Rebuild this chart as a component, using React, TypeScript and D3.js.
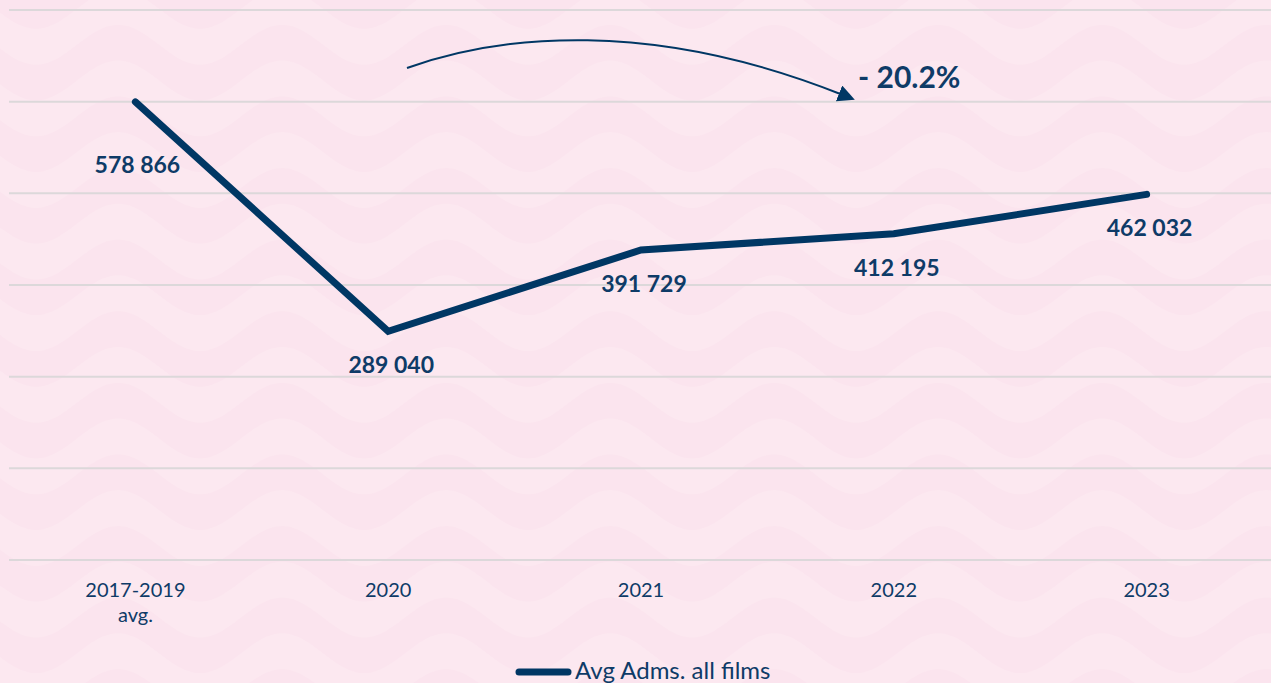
import React from "react";
import * as d3 from "d3";

const categories = ["2017-2019 avg.", "2020", "2021", "2022", "2023"];
const values = [578866, 289040, 391729, 412195, 462032];
const valueLabels = ["578 866", "289 040", "391 729", "412 195", "462 032"];
const seriesName = "Avg Adms. all films";
const changeLabel = "- 20.2%";
const yMax = 695000;
const gridCount = 6;

const W = 1271;
const H = 683;
const NAVY = "#003764";
const TEXT = "#0e3b67";

export default function App() {
  const x = d3.scaleBand<string>().domain(categories).range([9, 1273]).padding(0);
  const cx = (c: string) => (x(c) as number) + x.bandwidth() / 2;
  const y = d3.scaleLinear().domain([0, yMax]).range([560, 10]);
  const grid = d3.range(gridCount + 1).map((i) => (i * yMax) / gridCount);

  const line = d3
    .line<number>()
    .x((_, i) => cx(categories[i]))
    .y((v) => y(v));

  // decorative wave background bands
  const period = 164;
  const amp = 20;
  const waveLine = d3
    .line<[number, number]>()
    .curve(d3.curveBasis)
    .x((d) => d[0])
    .y((d) => d[1]);
  const bands: string[] = [];
  for (let k = -2; k < 11; k++) {
    const c = 132 + 71.6 * (k - 2) + amp;
    const top: [number, number][] = d3
      .range(-20, W + 24, 4)
      .map((px) => [px, c - amp * Math.cos((2 * Math.PI * (px - 118)) / period)]);
    const bottom: [number, number][] = top
      .slice()
      .reverse()
      .map(([px, py]) => [px, py + 36]);
    const d1 = waveLine(top) as string;
    const d2 = (waveLine(bottom) as string).replace(/^M/, "L");
    bands.push(d1 + d2 + "Z");
  }

  return (
    <svg
      width={W}
      height={H}
      style={{ position: "fixed", left: 0, top: 0, display: "block" }}
      fontFamily="Lato, 'Open Sans', sans-serif"
    >
      <defs>
        <marker
          id="arrowBig"
          viewBox="0 0 16 16"
          refX="4"
          refY="8"
          markerWidth="17"
          markerHeight="17"
          markerUnits="userSpaceOnUse"
          orient="auto"
        >
          <path d="M0,0 L16,8 L0,16 Z" fill={NAVY} />
        </marker>
      </defs>
      <rect x={0} y={0} width={W} height={H} fill="#fbe4ee" />
      {bands.map((d, i) => (
        <path key={i} d={d} fill="#fce8f0" />
      ))}

      {grid.map((g, i) => (
        <line key={i} x1={9} x2={W} y1={y(g)} y2={y(g)} stroke="#dcd8da" strokeWidth={2} />
      ))}

      {categories.map((c) => {
        const parts = c.split(" ");
        return (
          <text key={c} x={cx(c)} y={597} textAnchor="middle" fontSize={20} fill={TEXT}>
            {parts.map((p, j) => (
              <tspan key={j} x={cx(c)} dy={j === 0 ? 0 : 25}>
                {p}
              </tspan>
            ))}
          </text>
        );
      })}

      <path
        d={line(values) as string}
        fill="none"
        stroke={NAVY}
        strokeWidth={7}
        strokeLinecap="round"
        strokeLinejoin="miter"
      />

      {values.map((v, i) => (
        <text
          key={i}
          x={cx(categories[i]) + (i === 0 ? 2 : 3)}
          y={y(v) + (i === 0 ? 71 : 42)}
          textAnchor="middle"
          fontSize={23}
          fontWeight="bold"
          fill={TEXT}
        >
          {valueLabels[i]}
        </text>
      ))}

      <path
        d="M407,68 C500,35 650,18 843,95"
        fill="none"
        stroke={NAVY}
        strokeWidth={2}
        markerEnd="url(#arrowBig)"
      />
      <text x={858} y={88} fontSize={30} fontWeight="bold" fill={TEXT}>
        {changeLabel}
      </text>

      <line x1={519} x2={568} y1={672} y2={672} stroke={NAVY} strokeWidth={7} strokeLinecap="round" />
      <text x={575} y={679} fontSize={24} fill={TEXT}>
        {seriesName}
      </text>
    </svg>
  );
}
